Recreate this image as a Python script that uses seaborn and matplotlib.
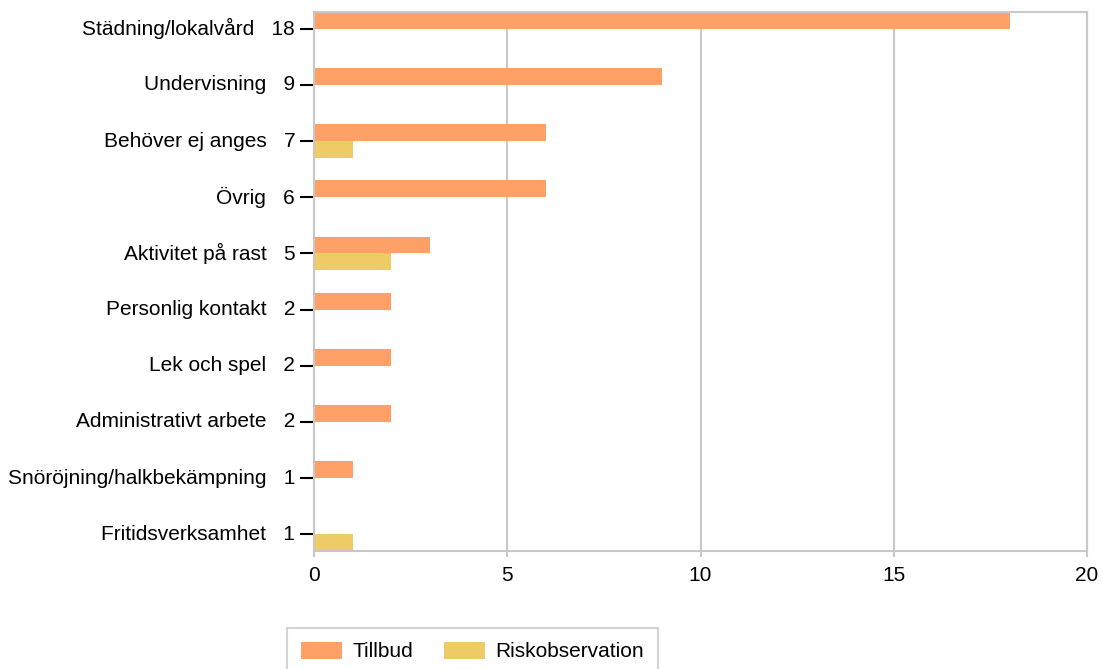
import seaborn as sns
import matplotlib.pyplot as plt
import pandas as pd

categories = ['Städning/lokalvård', 'Undervisning', 'Behöver ej anges', 'Övrig',
              'Aktivitet på rast', 'Personlig kontakt', 'Lek och spel',
              'Administrativt arbete', 'Snöröjning/halkbekämpning', 'Fritidsverksamhet']
tillbud = [18, 9, 6, 6, 3, 2, 2, 2, 1, 0]
riskobservation = [0, 0, 1, 0, 2, 0, 0, 0, 0, 1]
series = ['Tillbud', 'Riskobservation']
colors = ['#FFA066', '#EFCB66']

totals = [t + r for t, r in zip(tillbud, riskobservation)]

df = pd.DataFrame({
    'Kategori': categories * 2,
    'Antal': tillbud + riskobservation,
    'Typ': [series[0]] * len(categories) + [series[1]] * len(categories),
})

sns.set_style('white')
plt.rcParams['font.family'] = ['Liberation Sans', 'DejaVu Sans']
plt.rcParams['text.color'] = 'black'
plt.rcParams['xtick.color'] = 'black'
plt.rcParams['ytick.color'] = 'black'

fig = plt.figure(figsize=(11.02, 6.69), dpi=100)
ax = fig.add_axes([314 / 1102, 1 - 551 / 669, (1087 - 314) / 1102, (551 - 12) / 669])

sns.barplot(data=df, y='Kategori', x='Antal', hue='Typ', palette=colors,
            orient='h', width=0.6, linewidth=0, saturation=1, ax=ax)

ax.set_xlim(0, 20)
ax.set_ylim(9.3, -0.3)
ax.set_xticks([0, 5, 10, 15, 20])
ax.set_yticks(range(len(categories)))
# name and total in one label, right-aligned against the tick
ax.set_yticklabels([f'{c}   {t}' for c, t in zip(categories, totals)], va='center')
ax.set_xlabel('')
ax.set_ylabel('')
ax.grid(axis='x', color='#C8C8C8', linewidth=1.5)
ax.set_axisbelow(True)
for s in ax.spines.values():
    s.set_color('#C8C8C8')
    s.set_linewidth(1.5)
ax.tick_params(axis='y', left=True, length=10, width=1.5, color='black',
               labelcolor='black', labelsize=15, pad=3.5)
ax.tick_params(axis='x', bottom=True, length=4, width=1.5, color='#C8C8C8',
               labelcolor='black', labelsize=15, pad=7)

ax.legend_.remove()
handles, labels = ax.get_legend_handles_labels()
leg = fig.legend(handles, labels, loc='upper left', bbox_to_anchor=(287 / 1102, 1 - 628 / 669),
                 ncol=2, fontsize=15, frameon=True, fancybox=False, edgecolor='#C8C8C8',
                 handlelength=2.0, handleheight=0.9, handletextpad=0.5, columnspacing=1.45,
                 borderpad=0.65, borderaxespad=0)
leg.get_frame().set_linewidth(1.5)
for t in leg.get_texts():
    t.set_color('black')

fig.savefig('out.png', dpi=100)
